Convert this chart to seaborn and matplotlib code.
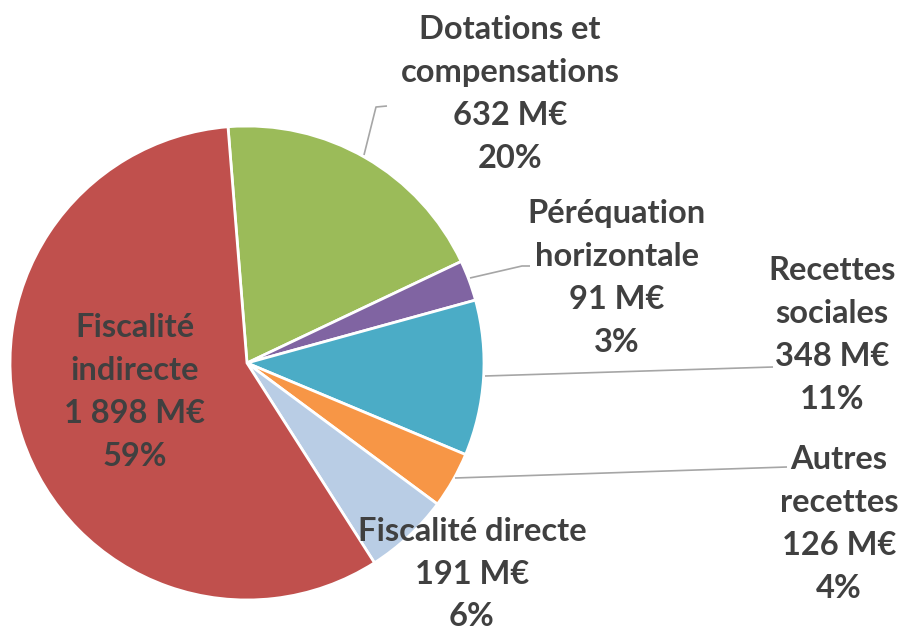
import matplotlib
matplotlib.use("Agg")
import matplotlib.pyplot as plt
import seaborn as sns

categories = ["Dotations et\ncompensations", "Péréquation\nhorizontale", "Recettes\nsociales",
              "Autres\nrecettes", "Fiscalité directe", "Fiscalité\nindirecte"]
values = [632, 91, 348, 126, 191, 1898]
value_labels = ["632 M€", "91 M€", "348 M€", "126 M€", "191 M€", "1 898 M€"]
pct_labels = ["20%", "3%", "11%", "4%", "6%", "59%"]
colors = ["#9BBB59", "#8064A2", "#4BACC6", "#F79646", "#B9CDE5", "#C0504D"]

sns.set_theme(style="white")
plt.rcParams['font.family'] = ['Lato', 'DejaVu Sans']

W, H = 901, 631
fig = plt.figure(figsize=(W / 100, H / 100), dpi=100)
ax = fig.add_axes([0, 0, 1, 1])

cx, cy, r = 247, H - 363, 237
ax.pie(values, colors=colors, startangle=94.6, counterclock=False,
       center=(cx, cy), radius=r, frame=True,
       wedgeprops=dict(edgecolor='white', linewidth=2))
ax.set_xlim(0, W)
ax.set_ylim(0, H)
ax.set_aspect('equal')
ax.axis('off')

# label centres (pixels from top)
label_pos = [(510, 94), (617, 278), (832, 335), (839, 524), (472, 574), (135, 392)]
for cat, vl, pl, (x, y) in zip(categories, value_labels, pct_labels, label_pos):
    ax.text(x, H - y, f"{cat}\n{vl}\n{pl}", ha='center', va='center',
            fontsize=23.5, fontweight='bold', color='#404040', linespacing=1.57)

# leader lines (pixels from top)
leaders = [
    [(364, 155), (376, 107), (387, 106)],
    [(470, 278), (522, 266), (530, 266)],
    [(485, 376), (773, 367)],
    [(455, 478), (787, 467)],
]
for pts in leaders:
    xs = [p[0] for p in pts]
    ys = [H - p[1] for p in pts]
    ax.plot(xs, ys, color='#A6A6A6', linewidth=1.2, solid_capstyle='butt')

fig.savefig("out.png", dpi=100)
